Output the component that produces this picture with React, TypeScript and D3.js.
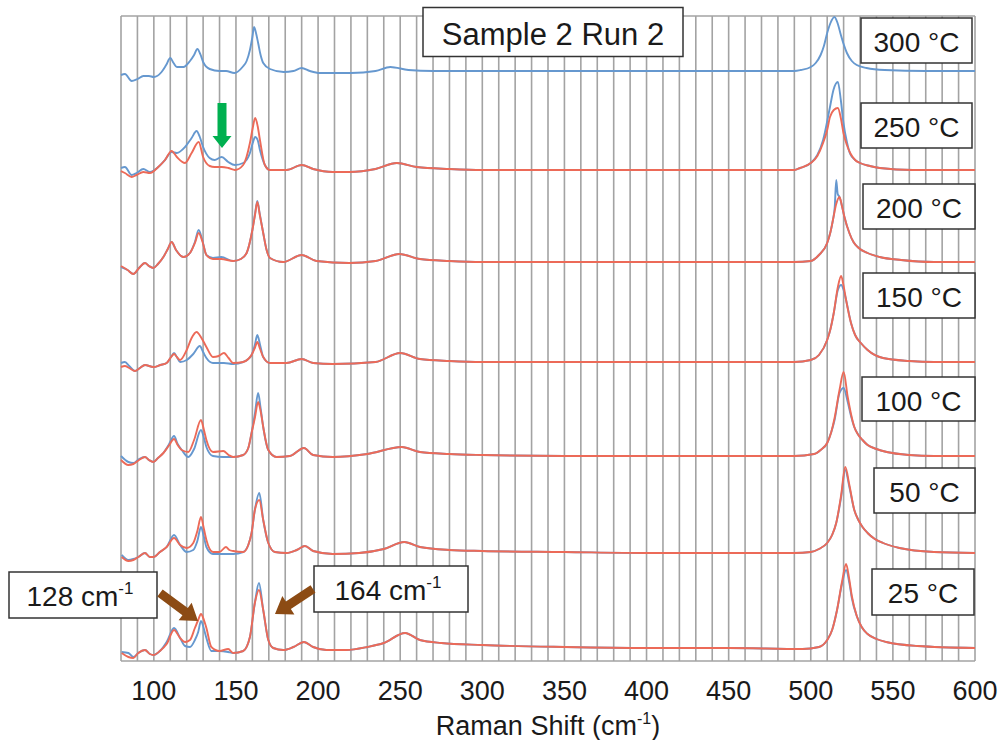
import React from 'react';
import * as d3 from 'd3';

type P = [number, number];

// ---- axis / labels ----
const xTicks = [100, 150, 200, 250, 300, 350, 400, 450, 500, 550, 600];
const tempLabels = ['300 °C', '250 °C', '200 °C', '150 °C', '100 °C', '50 °C', '25 °C'];
// vertical offset of each spectrum (arbitrary intensity units)
const offsets = [590, 491, 399, 299, 205, 108, 13];

// ---- 300 °C (single run) ----
const s300Blue: P[] = [
  [80, -4], [82.4, -3], [86.5, -10], [90, -8], [93.6, -5], [97, -5], [100, -6], [104.7, -1], [107.5, 6], [110, 13], [112, 8],
  [114, 4], [118, 4], [122, 10], [124.5, 16], [126.5, 22], [128.5, 16], [130, 9], [134, 2], [140, 0], [144, 0], [149, -2],
  [154, 4], [156.5, 10], [158.5, 21], [160, 34], [161, 44], [162.2, 38], [163.5, 28], [165, 16], [166.6, 8], [170.7, 2],
  [179, -1], [185, 0], [190, 3], [195, 0], [201, -2], [210, -2], [220, -2], [235, 0], [244, 4], [255, 1], [270, 0],
  [300, 0], [350, 0], [400, 0], [450, 0], [490, 0], [494, 1], [500, 4], [503, 8], [506, 16], [508, 25], [510, 38],
  [512, 48], [514.4, 54], [516.3, 48], [518, 38], [520, 27], [522, 18], [525, 10], [528, 6], [534, 3], [545, 1], [570, 0], [600, 0],
];

// ---- 250 °C ----
const low250Blue: P[] = [
  [80, 2], [82.4, 3], [86.5, -5], [89.5, -3], [93.6, 1], [97.6, -2], [102.7, 3], [106.8, 10], [110.8, 18], [114, 17],
  [119, 23], [123, 32], [126, 39], [128, 33], [130, 23], [134, 12], [137, 10], [141.3, 13], [145.3, 8], [149.4, 5],
  [154.4, 7], [158.5, 17], [160.2, 27], [161.7, 33], [163.2, 30], [164.6, 20], [167.6, 5], [170.7, 0],
];
const low250Red: P[] = [
  [80, -1], [82.4, -3], [86.5, -7], [89.5, -5], [93.6, -2], [97.6, -3], [102.7, 3], [106.8, 10], [110.8, 19], [114, 13],
  [119, 7], [123, 17], [127.3, 28], [130, 13], [134, 4], [137, 3], [141.3, 3], [145.3, 2], [149.4, 0], [154.4, 5],
  [158.5, 27], [160.2, 42], [161.7, 52], [163.2, 44], [164.6, 30], [167.6, 5], [170.7, 0],
];
const mid250: P[] = [
  [180.8, 0], [190, 5], [197, 1], [209, -2], [219, -2], [235, 1], [248, 7], [260, 3], [280, 1], [300, 0], [350, 0],
  [400, 0], [450, 0], [490, 0], [493.5, 2],
];
const si250Blue: P[] = [
  [500, 7], [504, 15], [507.5, 30], [511.7, 63], [513.8, 80], [516.5, 88], [518.3, 70], [519.9, 47], [522, 28], [524, 16],
  [527, 10], [530, 7], [536, 4], [542, 2], [562, 0], [580, 0], [600, 0],
];
const si250Red: P[] = [
  [500, 7], [504, 14], [507.5, 27], [510, 40], [511.7, 53], [514, 60], [516.5, 62], [518.3, 52], [519.9, 37], [522, 25],
  [524, 17], [527, 10], [530, 7], [536, 4], [542, 2], [562, 0], [580, 0], [600, 0],
];

// ---- 200 °C ----
const low200Blue: P[] = [
  [80, -5], [84, -8], [87.5, -12], [91, -6], [94.6, -1], [97, -4], [99.7, -6], [102.5, -2], [105.8, 5], [108.5, 13],
  [110.8, 20], [113.5, 12], [118, 5], [122, 9], [125, 20], [127.3, 32], [129.5, 22], [132, 7], [136, 4], [141, 5],
  [148.3, 1], [153, 3], [156.5, 9], [160, 32], [161.6, 48], [163, 61], [164.5, 48], [166.6, 29], [168.5, 13], [170.7, 4], [178.8, 0],
];
const low200Red: P[] = [
  [80, -4], [84, -8], [87.5, -12], [91, -6], [94.6, -1], [97, -4], [99.7, -6], [102.5, -2], [105.8, 5], [108.5, 13],
  [110.8, 20], [113.5, 12], [118, 5], [122, 9], [125, 19], [127.3, 29], [129.5, 21], [132, 7], [136, 3], [141, 3],
  [148.3, 1], [153, 3], [156.5, 9], [160, 32], [161.6, 47], [163, 60], [164.5, 47], [166.6, 29], [168.5, 13], [170.7, 4], [178.8, 0],
];
const mid200: P[] = [
  [190, 7], [199, 1], [219, -1], [235, 1], [249.5, 8], [262, 3], [280, 1], [300, 0], [350, 0], [400, 0], [450, 0],
  [490, 0], [500, 1], [505, 7], [510, 19],
];
const si200Blue: P[] = [
  [512, 30], [513.5, 42], [514.6, 55], [515.5, 82], [516.4, 68], [517.5, 65], [519, 56], [520.5, 45], [523.5, 29],
  [526, 20], [528.5, 15], [534.6, 9], [542, 5], [555, 2], [575, 0], [600, 0],
];
const si200Red: P[] = [
  [512, 30], [513.5, 42], [515.5, 58], [517.5, 65], [519, 56], [520.5, 45], [523.5, 29], [526, 20], [528.5, 15],
  [534.6, 9], [542, 5], [555, 2], [575, 0], [600, 0],
];

// ---- 150 °C ----
const low150Blue: P[] = [
  [80, -1], [82.4, 0], [85, -4], [88.5, -9], [91.5, -6], [94.6, -3], [99.7, -5], [104, -3], [107.8, -1], [110.5, 5],
  [112.3, 9], [114, 5], [116, 0], [120, 2], [124, 8], [128, 16], [130, 10], [132, 4], [136, -1], [142.7, -1], [148.3, -2],
  [154.4, 0], [157.5, 3], [159.5, 7], [161.5, 17], [163, 27], [164.7, 17], [166.6, 5], [170.7, -1], [180.8, -1],
];
const low150Red: P[] = [
  [80, -5], [82.4, -4], [85, -6], [88.5, -9], [91.5, -6], [94.6, -3], [99.7, -5], [104, -3], [107.8, -1], [110.5, 5],
  [112.3, 8], [114, 5], [116, 2], [120, 12], [123, 24], [126, 30], [129, 24], [132, 15], [136, 5], [139.5, 6], [142.7, 9],
  [145.5, 4], [148.3, -1], [154.4, 0], [157.5, 3], [159.5, 7], [161.5, 14], [163, 20], [164.7, 13], [166.6, 5],
  [170.7, -1], [180.8, -1],
];
const mid150: P[] = [
  [190, 3], [197, -1], [209, -2], [235, 0], [250, 9], [262, 3], [280, 1], [300, 0], [350, 0], [400, 0], [450, 0],
  [490, 0], [500, 2], [505, 7], [510, 22],
];
const si150Blue: P[] = [
  [512, 33], [514, 49], [516.5, 72], [518.5, 77], [520, 72], [521.5, 62], [524.5, 39], [527, 27], [530.5, 19],
  [534.6, 12], [544, 4], [560, 1], [575, 0], [600, 0],
];
const si150Red: P[] = [
  [512, 33], [514, 49], [516.5, 75], [518.5, 86], [520, 76], [521.5, 62], [524.5, 39], [527, 27], [530.5, 19],
  [534.6, 12], [544, 4], [560, 1], [575, 0], [600, 0],
];

// ---- 100 °C ----
const low100Blue: P[] = [
  [80, 0], [84.5, -6], [87.5, -7], [91, -3], [94.6, -1], [97, -4], [99.7, -6], [102.5, -2], [105.8, 3], [109, 11],
  [112.3, 20], [114.5, 12], [117, 6], [121, -1], [124.5, 7], [128.7, 26], [130.5, 18], [132, 9], [136, 0], [142.3, -1],
  [148.3, -1], [154.4, 1], [157.5, 8], [159.5, 23], [161.5, 42], [163.5, 63], [165, 48], [166.6, 29], [169.7, 6],
  [174.7, -1], [182.8, 0],
];
const low100Red: P[] = [
  [80, -4], [84.5, -9], [87.5, -8], [91, -4], [94.6, -1], [97, -4], [99.7, -6], [102.5, -2], [105.8, 3], [109, 10],
  [112.3, 17], [114.5, 11], [117, 6], [121, 4], [124.5, 16], [128.7, 36], [130.5, 26], [132, 16], [136, 4], [142.3, 5],
  [145.5, 1], [148.3, -1], [154.4, 1], [157.5, 8], [159.5, 23], [161.5, 38], [163.5, 54], [165, 45], [166.6, 29],
  [169.7, 6], [174.7, -1], [182.8, 0],
];
const mid100: P[] = [
  [191.4, 8], [197, 1], [209, -1], [230, 2], [251, 9], [262, 4], [280, 2], [300, 1], [350, 0], [400, 0], [450, 0],
  [490, 0], [502, 2], [506, 6], [510, 13],
];
const si100Blue: P[] = [
  [512.5, 24], [514.5, 36], [517.5, 63], [520, 68], [522.5, 54], [524.5, 40], [526.5, 29], [529, 21], [531.5, 16],
  [534.6, 11], [540, 7], [546.3, 4], [560, 1], [575, 0], [600, 0],
];
const si100Red: P[] = [
  [512.5, 24], [514.5, 38], [517.5, 66], [520, 84], [522.5, 59], [524.5, 42], [526.5, 29], [529, 21], [531.5, 16],
  [534.6, 11], [540, 7], [546.3, 4], [560, 1], [575, 0], [600, 0],
];

// ---- 50 °C ----
const low50Blue: P[] = [
  [80.4, -2], [84.5, -7], [87.5, -6], [90.5, -4], [94.6, 0], [97.6, -4], [99.7, -4], [103.7, 1], [107.8, 6], [112.3, 18],
  [116, 8], [120, 1], [124, 3], [126.5, 12], [128.7, 26], [130.5, 16], [132, 6], [136, -1], [143.9, -1], [148.3, -1],
  [154.4, 1], [157.5, 8], [159.5, 20], [161.5, 43], [164.2, 60], [166.6, 33], [169.7, 10], [173.7, 1], [180.8, 0],
];
const low50Red: P[] = [
  [80.4, -4], [84.5, -8], [87.5, -7], [90.5, -4], [94.6, 0], [97.6, -4], [99.7, -4], [103.7, 1], [107.8, 6], [112.3, 15],
  [116, 8], [120, 5], [124, 10], [126.5, 22], [128.7, 36], [130.5, 24], [132, 13], [136, 1], [140, 1], [143.9, 6],
  [146, 3], [148.3, 2], [154.4, 1], [157.5, 8], [159.5, 20], [161.5, 43], [164.2, 53], [166.6, 33], [169.7, 10],
  [173.7, 1], [180.8, 0],
];
const mid50: P[] = [
  [187, 3], [192, 7], [197, 2], [209, -1], [225, 0], [240, 4], [252.5, 11], [262, 6], [280, 3], [300, 2], [350, 1],
  [400, 0], [450, 0], [490, 0], [500, 1], [505, 4], [510, 10],
];
const si50Blue: P[] = [
  [513, 18], [515.5, 30], [518.5, 56], [521, 83], [523.5, 66], [526.5, 43], [529, 33], [531.5, 26], [534.6, 20],
  [539, 14], [544, 10], [554, 5], [575, 1], [600, 0],
];
const si50Red: P[] = [
  [513, 18], [515.5, 30], [518.5, 58], [521, 86], [523.5, 68], [526.5, 43], [529, 33], [531.5, 26], [534.6, 20],
  [539, 14], [544, 10], [554, 5], [575, 1], [600, 0],
];

// ---- 25 °C ----
const low25Blue: P[] = [
  [80.4, -4], [84.5, -5], [87.5, -9], [90.5, -5], [94.6, -2], [97.6, -6], [99.7, -7], [103.7, -3], [107.8, 6],
  [112.3, 20], [116, 10], [119, 2], [122, 1], [125, 8], [127, 16], [128.7, 27], [130.5, 19], [132, 10], [135, -3],
  [140, -3], [145.3, -4], [148.3, -5], [154.4, -3], [158.5, 11], [161.5, 45], [164, 65], [166.6, 38], [169.7, 8],
  [172.7, 0], [178.8, -2],
];
const low25Red: P[] = [
  [80.4, -5], [84.5, -9], [87.5, -10], [90.5, -5], [94.6, -2], [97.6, -6], [99.7, -7], [103.7, -3], [107.8, 4],
  [112.3, 18], [116, 10], [119, 6], [122, 8], [125, 20], [127, 28], [128.7, 34], [130.5, 28], [132, 20], [135, 1],
  [140, -3], [145.3, -1], [148.3, -5], [154.4, -3], [158.5, 11], [161.5, 45], [164, 58], [166.6, 38], [169.7, 8],
  [172.7, 0], [178.8, -2],
];
const mid25: P[] = [
  [185, 1], [191.4, 6], [197, 1], [205, -2], [217, -2], [230, 1], [240, 5], [253, 15], [262, 8], [275, 5], [300, 3],
  [350, 1], [400, 0], [450, 0], [495, -1], [505, 1], [510, 8],
];
const si25Blue: P[] = [
  [513, 18], [516, 38], [519, 64], [521.5, 78], [523.5, 65], [525, 50], [528, 32], [531, 21], [534.6, 14], [540, 9],
  [546, 6], [565, 2], [600, 0],
];
const si25Red: P[] = [
  [513, 18], [516, 38], [519, 66], [521.5, 84], [523.5, 68], [525, 52], [528, 32], [531, 21], [534.6, 14], [540, 9],
  [546, 6], [565, 2], [600, 0],
];

const BLUE = '#6698cf';
const RED = '#ec6a58';

const seriesList: { row: number; color: string; data: P[] }[] = [
  { row: 0, color: BLUE, data: s300Blue },
  { row: 1, color: BLUE, data: [...low250Blue, ...mid250, ...si250Blue] },
  { row: 1, color: RED, data: [...low250Red, ...mid250, ...si250Red] },
  { row: 2, color: BLUE, data: [...low200Blue, ...mid200, ...si200Blue] },
  { row: 2, color: RED, data: [...low200Red, ...mid200, ...si200Red] },
  { row: 3, color: BLUE, data: [...low150Blue, ...mid150, ...si150Blue] },
  { row: 3, color: RED, data: [...low150Red, ...mid150, ...si150Red] },
  { row: 4, color: BLUE, data: [...low100Blue, ...mid100, ...si100Blue] },
  { row: 4, color: RED, data: [...low100Red, ...mid100, ...si100Red] },
  { row: 5, color: BLUE, data: [...low50Blue, ...mid50, ...si50Blue] },
  { row: 5, color: RED, data: [...low50Red, ...mid50, ...si50Red] },
  { row: 6, color: BLUE, data: [...low25Blue, ...mid25, ...si25Blue] },
  { row: 6, color: RED, data: [...low25Red, ...mid25, ...si25Red] },
];

// label box layout (x, y, w, h) for temperature labels
const tempBoxes = [
  [861, 18, 111, 45],
  [861, 103, 111, 45],
  [863, 184, 112, 45],
  [863, 273, 112, 45],
  [862, 377, 113, 44],
  [874, 468, 101, 45],
  [872, 569, 102, 46],
];

const FONT = '"Liberation Sans", Arial, Helvetica, sans-serif';

function blockArrow(x0: number, y0: number, x1: number, y1: number, sw: number, hw: number, hl: number) {
  const dx = x1 - x0, dy = y1 - y0;
  const len = Math.hypot(dx, dy);
  const ux = dx / len, uy = dy / len;
  const nx = -uy, ny = ux;
  const bx = x1 - ux * hl, by = y1 - uy * hl;
  const pts: P[] = [
    [x0 + nx * sw / 2, y0 + ny * sw / 2],
    [bx + nx * sw / 2, by + ny * sw / 2],
    [bx + nx * hw / 2, by + ny * hw / 2],
    [x1, y1],
    [bx - nx * hw / 2, by - ny * hw / 2],
    [bx - nx * sw / 2, by - ny * sw / 2],
    [x0 - nx * sw / 2, y0 - ny * sw / 2],
  ];
  return pts.map((p) => p.join(',')).join(' ');
}

export default function App() {
  const W = 1005, H = 740;
  const x = d3.scaleLinear().domain([80, 600]).range([121, 975]);
  const y = d3.scaleLinear().domain([0, 645]).range([661, 16]);
  const line = d3
    .line<P>()
    .x((d) => x(d[0]))
    .y((d) => y(d[1]))
    .curve(d3.curveMonotoneX);
  const grid = d3.range(80, 601, 10);
  const GRID = '#a3a3a3';

  return (
    <svg
      width={W}
      height={H}
      style={{ position: 'absolute', left: 0, top: 0, background: '#fff' }}
      fontFamily={FONT}
    >
      <rect x={0} y={0} width={W} height={H} fill="#fff" />
      {/* gridlines */}
      {grid.map((g) => (
        <line key={g} x1={x(g)} x2={x(g)} y1={y(645)} y2={y(0)} stroke={GRID} strokeWidth={1.6} />
      ))}
      <line x1={x(80)} x2={x(600)} y1={y(645)} y2={y(645)} stroke={GRID} strokeWidth={1.6} />
      <line x1={x(80)} x2={x(600)} y1={y(0)} y2={y(0)} stroke={GRID} strokeWidth={1.6} />

      {/* spectra */}
      {seriesList.map((s, i) => (
        <path
          key={i}
          d={line(s.data.map(([w, v]) => [w, v + offsets[s.row]] as P)) || ''}
          fill="none"
          stroke={s.color}
          strokeWidth={1.9}
          strokeLinejoin="round"
        />
      ))}

      {/* x tick labels */}
      {xTicks.map((t) => (
        <text key={t} x={x(t)} y={700} textAnchor="middle" fontSize={27} fill="#1a1a1a">
          {t}
        </text>
      ))}
      <text x={(x(80) + x(600)) / 2} y={735} textAnchor="middle" fontSize={27} fill="#1a1a1a">
        Raman Shift (cm
        <tspan dy={-11} fontSize={16}>-1</tspan>
        <tspan dy={11}>)</tspan>
      </text>

      {/* title box */}
      <rect x={423} y={7.5} width={260} height={49} fill="#fff" stroke="#333" strokeWidth={1.5} />
      <text x={553} y={45} textAnchor="middle" fontSize={31} fill="#1a1a1a">
        Sample 2 Run 2
      </text>

      {/* temperature labels */}
      {tempLabels.map((lab, i) => {
        const [bx, by, bw, bh] = tempBoxes[i];
        return (
          <g key={lab}>
            <rect x={bx} y={by} width={bw} height={bh} fill="#fff" stroke="#333" strokeWidth={1.5} />
            <text x={bx + bw / 2} y={by + 34} textAnchor="middle" fontSize={28} fill="#1a1a1a">
              {lab}
            </text>
          </g>
        );
      })}

      {/* peak annotations */}
      <rect x={9} y={572} width={148} height={46} fill="#fff" stroke="#333" strokeWidth={1.5} />
      <text x={80} y={606} textAnchor="middle" fontSize={28} fill="#1a1a1a">
        128 cm
        <tspan dy={-12} fontSize={17}>-1</tspan>
      </text>
      <rect x={314} y={566} width={154} height={46} fill="#fff" stroke="#333" strokeWidth={1.5} />
      <text x={388} y={600} textAnchor="middle" fontSize={28} fill="#1a1a1a">
        164 cm
        <tspan dy={-12} fontSize={17}>-1</tspan>
      </text>

      <polygon points={blockArrow(160, 593, 198, 621, 9, 22, 16)} fill="#8c4b14" />
      <polygon points={blockArrow(313, 589, 275, 614, 9, 22, 16)} fill="#8c4b14" />
      <polygon points={blockArrow(222, 103, 222, 148, 9, 19, 12)} fill="#00b050" />
    </svg>
  );
}
